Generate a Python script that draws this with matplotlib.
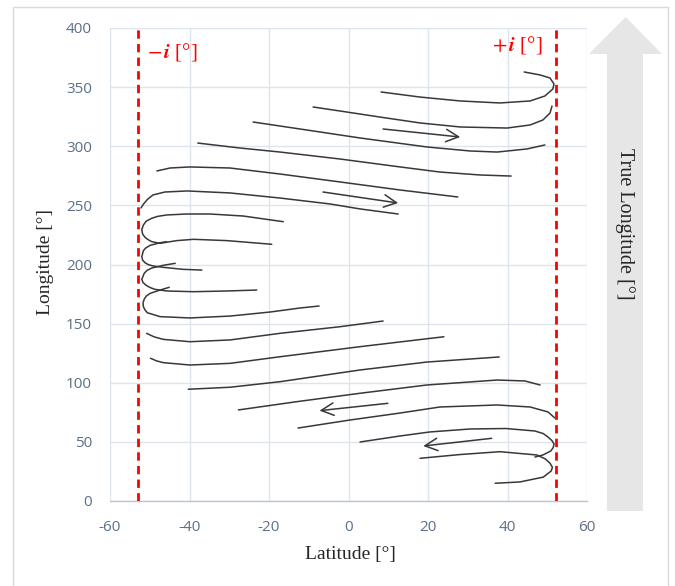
import matplotlib
matplotlib.use("Agg")
import matplotlib.pyplot as plt
from matplotlib.patches import Polygon, Rectangle

plt.rcParams['mathtext.fontset'] = 'stix'
plt.rcParams['axes.unicode_minus'] = False

# inclination limits
inc_neg = -53.0
inc_pos = 52.2

# ground track segments, latitude / longitude in degrees (top to bottom)
lat_1 = [8.2, 18.0, 28.1, 38.1, 45.7, 49.4, 51.4, 51.7, 50.7, 48.2, 44.2]
lon_1 = [345.9, 341.6, 338.3, 336.6, 338.3, 342.5, 348.4, 352.6, 357.7, 360.3, 362.8]

lat_2 = [-8.9, -2.1, 7.9, 18.0, 28.1, 39.9, 45.7, 48.9, 50.7, 51.2]
lon_2 = [333.2, 329.8, 324.7, 319.7, 316.3, 315.4, 318.0, 322.2, 328.1, 334.0]

lat_3 = [-24.0, -12.2, 2.9, 19.7, 30.6, 37.4, 44.9, 49.4]
lon_3 = [320.5, 314.6, 307.0, 299.4, 296.0, 295.1, 297.7, 301.1]

lat_4 = [-37.9, -27.3, -17.2, -2.1, 13.0, 23.0, 33.1, 40.9]
lon_4 = [302.7, 298.5, 295.1, 289.2, 282.5, 278.2, 275.7, 274.8]

lat_5 = [-48.2, -44.9, -39.9, -29.8, -17.2, -2.1, 13.0, 27.5]
lon_5 = [279.1, 281.6, 282.5, 281.6, 276.5, 269.8, 263.0, 257.1]

lat_6 = [-52.2, -51.6, -50.6, -49.2, -46.2, -40.6, -29.8, -17.2, -4.65, 2.9, 12.5]
lon_6 = [247.8, 251.0, 255.0, 258.8, 261.3, 262.2, 260.5, 256.2, 251.2, 247.0, 242.7]

lat_7 = [-16.4, -26.5, -34.8, -40.7, -45.7, -48.0, -49.5, -50.9, -51.6, -52.0, -51.8,
         -51.2, -50.4, -49.5, -47.4, -43.2, -39.0, -30.6, -19.3]
lon_7 = [236.2, 241.0, 242.7, 242.7, 241.9, 240.7, 239.1, 236.6, 233.4, 229.5, 225.8,
         223.0, 221.0, 219.3, 217.9, 220.2, 221.3, 220.2, 217.1]

lat_8 = [-45.8, -47.4, -49.9, -51.0, -51.6, -52.0, -51.8, -51.2, -50.3, -49.1, -46.6,
         -41.6, -36.9]
lon_8 = [219.3, 218.4, 216.2, 214.0, 211.7, 206.6, 203.8, 201.5, 199.8, 198.7, 197.6,
         195.9, 195.3]

lat_9 = [-43.6, -46.6, -49.5, -50.7, -51.4, -52.0, -51.7, -50.9, -49.9, -48.7, -45.7,
         -39.0, -30.6, -23.1]
lon_9 = [201.0, 199.3, 197.0, 195.0, 192.5, 187.5, 184.8, 182.4, 180.5, 179.0, 177.6,
         177.0, 177.6, 178.4]

lat_10 = [-45.1, -47.4, -49.9, -50.9, -51.4, -51.7, -51.6, -51.2, -50.6, -47.4, -39.9,
          -29.8, -19.75, -12.2, -7.4]
lon_10 = [180.7, 178.4, 175.6, 173.2, 170.6, 167.3, 164.3, 161.6, 159.2, 155.9, 154.8,
          156.4, 159.8, 163.2, 164.9]

lat_11 = [-50.8, -48.9, -46.6, -39.9, -29.8, -17.2, -2.1, 8.7]
lon_11 = [141.8, 138.8, 136.7, 134.7, 136.2, 141.8, 147.4, 152.2]

lat_12 = [-49.8, -48.3, -46.6, -39.9, -29.8, -17.2, 2.9, 24.0]
lon_12 = [120.7, 118.5, 117.0, 115.0, 116.4, 122.0, 130.5, 138.9]

lat_13 = [-40.3, -29.8, -17.2, 2.9, 19.7, 37.9]
lon_13 = [94.5, 96.2, 100.9, 110.8, 117.5, 121.8]

lat_14 = [-27.7, -13.0, 2.9, 19.7, 37.4, 44.4, 48.2]
lon_14 = [77.0, 84.0, 91.1, 98.1, 102.3, 101.5, 98.1]

lat_15 = [-12.7, 0.4, 13.0, 23.0, 37.4, 45.7, 50.2, 51.9]
lon_15 = [61.7, 68.5, 74.4, 79.5, 81.2, 79.5, 75.3, 70.2]

lat_16 = [2.9, 13.0, 20.5, 30.6, 39.6, 46.9, 49.0, 50.2, 51.2, 51.7, 51.5, 50.9, 48.9, 46.9]
lon_16 = [49.9, 55.0, 58.4, 60.9, 61.3, 59.2, 57.0, 54.1, 51.0, 48.2, 45.2, 42.3, 38.9, 37.2]

lat_17 = [18.0, 28.1, 38.1, 47.4, 49.5, 50.7, 51.3, 51.0, 49.0, 43.1, 36.9]
lon_17 = [36.1, 39.3, 41.7, 38.9, 35.6, 31.9, 28.5, 25.4, 20.2, 16.1, 15.0]

# direction arrows: tail and head positions
arrow_tail_lat = [8.7, -6.4, 9.9, 36.0]
arrow_tail_lon = [314.6, 261.3, 82.6, 53.0]
arrow_head_lat = [28.1, 12.5, -7.3, 18.8]
arrow_head_lon = [307.8, 252.0, 76.4, 46.5]

xticks = [-60, -40, -20, 0, 20, 40, 60]
yticks = [0, 50, 100, 150, 200, 250, 300, 350, 400]

W, H = 675, 586
fig = plt.figure(figsize=(W / 100, H / 100), dpi=100)

# outer frame
fig.patches.append(Rectangle((13 / W, -0.01), 655 / W, 1 - 7 / H + 0.01,
                             transform=fig.transFigure, fill=False,
                             edgecolor='#d9d9d9', lw=1.0))

# big grey "true longitude" arrow on the right
px = [(607, 511), (607, 54), (589, 54), (625.5, 17), (662, 54), (643, 54), (643, 511)]
fig.patches.append(Polygon([(x / W, 1 - y / H) for x, y in px], closed=True,
                           transform=fig.transFigure, facecolor='#e7e6e6',
                           edgecolor='none'))
fig.text(625 / W, 1 - 224 / H, 'True Longitude [°]', rotation=-90,
         ha='center', va='center', family='Liberation Serif', fontsize=14.5,
         color='#262626')

ax = fig.add_axes([110 / W, 1 - 501 / H, 477 / W, 473 / H])

tracks = [(lat_1, lon_1), (lat_2, lon_2), (lat_3, lon_3), (lat_4, lon_4),
          (lat_5, lon_5), (lat_6, lon_6), (lat_7, lon_7), (lat_8, lon_8),
          (lat_9, lon_9), (lat_10, lon_10), (lat_11, lon_11), (lat_12, lon_12),
          (lat_13, lon_13), (lat_14, lon_14), (lat_15, lon_15), (lat_16, lon_16),
          (lat_17, lon_17)]
for la, lo in tracks:
    ax.plot(la, lo, color='#383838', lw=1.1, solid_joinstyle='round',
            solid_capstyle='round', zorder=3)

for tx, ty, hx, hy in zip(arrow_tail_lat, arrow_tail_lon, arrow_head_lat, arrow_head_lon):
    ax.annotate('', xy=(hx, hy), xytext=(tx, ty),
                arrowprops=dict(arrowstyle='->,head_length=0.6,head_width=0.3',
                                color='#383838', lw=1.1, shrinkA=0, shrinkB=0,
                                mutation_scale=15), zorder=3)

ax.axvline(inc_neg, color='#ff0000', lw=2.0, dashes=(3, 1.9), zorder=4)
ax.axvline(inc_pos, color='#ff0000', lw=2.0, dashes=(3, 1.9), zorder=4)
ax.text(-50.7, 380, r'$-\,\boldsymbol{i}$ [°]', color='#ff0000',
        family='Liberation Serif', fontsize=15, ha='left', va='center')
ax.text(48.7, 386, r'$+\,\boldsymbol{i}$ [°]', color='#ff0000',
        family='Liberation Serif', fontsize=15, ha='right', va='center')

ax.set_xlim(-60, 60)
ax.set_ylim(0, 400)
ax.set_xticks(xticks)
ax.set_yticks(yticks)
ax.grid(True, color='#dde4ec', lw=1.0)
ax.set_axisbelow(True)
for side in ['top', 'right', 'left']:
    ax.spines[side].set_visible(False)
ax.spines['bottom'].set_color('#bcc7d3')
ax.spines['bottom'].set_linewidth(1.0)
ax.tick_params(length=0, colors='#5b6f87', labelsize=11)
ax.tick_params(axis='x', pad=14)
ax.tick_params(axis='y', pad=13)
for lbl in ax.get_xticklabels() + ax.get_yticklabels():
    lbl.set_family('Open Sans')

fig.text(350 / W, 1 - 555 / H, 'Latitude [°]', ha='center', va='center',
         family='Liberation Serif', fontsize=14, color='#262626')
fig.text(45 / W, 1 - 262 / H, 'Longitude [°]', rotation=90, ha='center',
         va='center', family='Liberation Serif', fontsize=14, color='#262626')

fig.savefig('out.png', dpi=100)
